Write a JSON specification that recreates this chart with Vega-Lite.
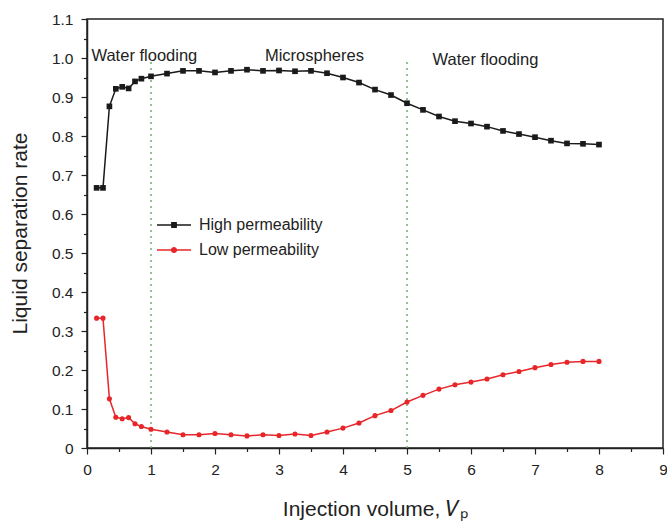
{
  "$schema": "https://vega.github.io/schema/vega-lite/v6.json",
  "width": 576,
  "height": 429,
  "autosize": {"type": "none"},
  "padding": {"left": 87, "top": 19, "right": 4, "bottom": 74},
  "config": {
    "font": "Liberation Sans",
    "view": {"stroke": "#222", "strokeWidth": 1.5},
    "axis": {"grid": false, "domainColor": "#222", "domainWidth": 1.5, "tickColor": "#222", "tickWidth": 1.2, "labelColor": "#222", "labelFontSize": 15.5, "titleFontSize": 21, "titleFontWeight": "normal", "titleColor": "#222", "labelOverlap": false, "labelFlush": false}
  },
  "resolve": {"axis": {"x": "independent", "y": "independent"}},
  "datasets": {
    "series": [
      {"v": 0.15, "rate": 0.667, "series": "High permeability"},
      {"v": 0.25, "rate": 0.667, "series": "High permeability"},
      {"v": 0.35, "rate": 0.876, "series": "High permeability"},
      {"v": 0.45, "rate": 0.921, "series": "High permeability"},
      {"v": 0.55, "rate": 0.926, "series": "High permeability"},
      {"v": 0.65, "rate": 0.922, "series": "High permeability"},
      {"v": 0.75, "rate": 0.940, "series": "High permeability"},
      {"v": 0.85, "rate": 0.947, "series": "High permeability"},
      {"v": 1.0, "rate": 0.953, "series": "High permeability"},
      {"v": 1.25, "rate": 0.960, "series": "High permeability"},
      {"v": 1.5, "rate": 0.967, "series": "High permeability"},
      {"v": 1.75, "rate": 0.967, "series": "High permeability"},
      {"v": 2.0, "rate": 0.963, "series": "High permeability"},
      {"v": 2.25, "rate": 0.967, "series": "High permeability"},
      {"v": 2.5, "rate": 0.970, "series": "High permeability"},
      {"v": 2.75, "rate": 0.967, "series": "High permeability"},
      {"v": 3.0, "rate": 0.968, "series": "High permeability"},
      {"v": 3.25, "rate": 0.966, "series": "High permeability"},
      {"v": 3.5, "rate": 0.967, "series": "High permeability"},
      {"v": 3.75, "rate": 0.961, "series": "High permeability"},
      {"v": 4.0, "rate": 0.950, "series": "High permeability"},
      {"v": 4.25, "rate": 0.937, "series": "High permeability"},
      {"v": 4.5, "rate": 0.919, "series": "High permeability"},
      {"v": 4.75, "rate": 0.905, "series": "High permeability"},
      {"v": 5.0, "rate": 0.884, "series": "High permeability"},
      {"v": 5.25, "rate": 0.867, "series": "High permeability"},
      {"v": 5.5, "rate": 0.850, "series": "High permeability"},
      {"v": 5.75, "rate": 0.838, "series": "High permeability"},
      {"v": 6.0, "rate": 0.832, "series": "High permeability"},
      {"v": 6.25, "rate": 0.824, "series": "High permeability"},
      {"v": 6.5, "rate": 0.813, "series": "High permeability"},
      {"v": 6.75, "rate": 0.805, "series": "High permeability"},
      {"v": 7.0, "rate": 0.797, "series": "High permeability"},
      {"v": 7.25, "rate": 0.788, "series": "High permeability"},
      {"v": 7.5, "rate": 0.781, "series": "High permeability"},
      {"v": 7.75, "rate": 0.780, "series": "High permeability"},
      {"v": 8.0, "rate": 0.778, "series": "High permeability"},
      {"v": 0.15, "rate": 0.333, "series": "Low permeability"},
      {"v": 0.25, "rate": 0.333, "series": "Low permeability"},
      {"v": 0.35, "rate": 0.126, "series": "Low permeability"},
      {"v": 0.45, "rate": 0.079, "series": "Low permeability"},
      {"v": 0.55, "rate": 0.075, "series": "Low permeability"},
      {"v": 0.65, "rate": 0.078, "series": "Low permeability"},
      {"v": 0.75, "rate": 0.062, "series": "Low permeability"},
      {"v": 0.85, "rate": 0.055, "series": "Low permeability"},
      {"v": 1.0, "rate": 0.048, "series": "Low permeability"},
      {"v": 1.25, "rate": 0.041, "series": "Low permeability"},
      {"v": 1.5, "rate": 0.034, "series": "Low permeability"},
      {"v": 1.75, "rate": 0.034, "series": "Low permeability"},
      {"v": 2.0, "rate": 0.037, "series": "Low permeability"},
      {"v": 2.25, "rate": 0.034, "series": "Low permeability"},
      {"v": 2.5, "rate": 0.031, "series": "Low permeability"},
      {"v": 2.75, "rate": 0.034, "series": "Low permeability"},
      {"v": 3.0, "rate": 0.032, "series": "Low permeability"},
      {"v": 3.25, "rate": 0.036, "series": "Low permeability"},
      {"v": 3.5, "rate": 0.032, "series": "Low permeability"},
      {"v": 3.75, "rate": 0.041, "series": "Low permeability"},
      {"v": 4.0, "rate": 0.051, "series": "Low permeability"},
      {"v": 4.25, "rate": 0.064, "series": "Low permeability"},
      {"v": 4.5, "rate": 0.083, "series": "Low permeability"},
      {"v": 4.75, "rate": 0.096, "series": "Low permeability"},
      {"v": 5.0, "rate": 0.118, "series": "Low permeability"},
      {"v": 5.25, "rate": 0.135, "series": "Low permeability"},
      {"v": 5.5, "rate": 0.151, "series": "Low permeability"},
      {"v": 5.75, "rate": 0.162, "series": "Low permeability"},
      {"v": 6.0, "rate": 0.169, "series": "Low permeability"},
      {"v": 6.25, "rate": 0.177, "series": "Low permeability"},
      {"v": 6.5, "rate": 0.188, "series": "Low permeability"},
      {"v": 6.75, "rate": 0.196, "series": "Low permeability"},
      {"v": 7.0, "rate": 0.206, "series": "Low permeability"},
      {"v": 7.25, "rate": 0.214, "series": "Low permeability"},
      {"v": 7.5, "rate": 0.220, "series": "Low permeability"},
      {"v": 7.75, "rate": 0.222, "series": "Low permeability"},
      {"v": 8.0, "rate": 0.222, "series": "Low permeability"}
    ],
    "dividers": [
      {"v": 1, "y0": 0, "y1": 1.0},
      {"v": 5, "y0": 0, "y1": 1.0}
    ],
    "notes": [
      {"v": 0.07, "rate": 1.005, "label": "Water flooding"},
      {"v": 2.78, "rate": 1.005, "label": "Microspheres"},
      {"v": 5.4, "rate": 0.995, "label": "Water flooding"}
    ]
  },
  "layer": [
    {
      "data": {"name": "dividers"},
      "mark": {"type": "rule", "color": "#6fae6f", "strokeDash": [2, 4], "strokeWidth": 1.5},
      "encoding": {
        "x": {
          "field": "v", "type": "quantitative",
          "scale": {"domain": [0, 9], "nice": false},
          "axis": {"orient": "bottom", "values": [0.5, 1.5, 2.5, 3.5, 4.5, 5.5, 6.5, 7.5, 8.5], "labels": false, "domain": false, "tickSize": 3.5, "title": null}
        },
        "y": {
          "field": "y0", "type": "quantitative",
          "scale": {"domain": [0, 1.1], "nice": false},
          "axis": {"orient": "left", "values": [0.05, 0.15, 0.25, 0.35, 0.45, 0.55, 0.65, 0.75, 0.85, 0.95, 1.05], "labels": false, "domain": false, "tickSize": 3.5, "title": null}
        },
        "y2": {"field": "y1"}
      }
    },
    {
      "data": {"name": "series"},
      "mark": {"type": "line", "strokeWidth": 1.5},
      "encoding": {
        "x": {
          "field": "v", "type": "quantitative",
          "axis": {
            "orient": "bottom",
            "title": "Injection volume, 𝑉ₚ",
            "values": [0, 1, 2, 3, 4, 5, 6, 7, 8, 9],
            "format": "d",
            "tickSize": 6,
            "labelPadding": 8,
            "titleY": 61,
            "titleBaseline": "middle"
          }
        },
        "y": {
          "field": "rate", "type": "quantitative",
          "axis": {
            "orient": "left",
            "title": "Liquid separation rate",
            "values": [0, 0.1, 0.2, 0.3, 0.4, 0.5, 0.6, 0.7, 0.8, 0.9, 1.0, 1.1],
            "labelExpr": "datum.value === 0 ? '0' : format(datum.value, '.1f')",
            "tickSize": 6,
            "labelPadding": 8,
            "titleX": -67,
            "titleY": 214,
            "titleAngle": -90,
            "titleAlign": "center",
            "titleBaseline": "middle"
          }
        },
        "color": {
          "field": "series", "type": "nominal",
          "scale": {"domain": ["High permeability", "Low permeability"], "range": ["#1a1a1a", "#e8262a"]},
          "legend": {"title": null, "orient": "none", "legendX": 70, "legendY": 189, "padding": 0, "labelFontSize": 16, "labelColor": "#222", "symbolSize": 1156, "symbolStrokeWidth": 0, "rowPadding": -20, "labelOffset": 8}
        }
      }
    },
    {
      "data": {"name": "series"},
      "transform": [{"filter": "datum.series === 'High permeability'"}],
      "mark": {"type": "square", "opacity": 1, "size": 32},
      "encoding": {
        "x": {"field": "v", "type": "quantitative", "axis": null},
        "y": {"field": "rate", "type": "quantitative", "axis": null},
        "color": {"field": "series", "type": "nominal"}
      }
    },
    {
      "data": {"name": "series"},
      "transform": [{"filter": "datum.series === 'Low permeability'"}],
      "mark": {"type": "circle", "opacity": 1, "size": 26},
      "encoding": {
        "x": {"field": "v", "type": "quantitative", "axis": null},
        "y": {"field": "rate", "type": "quantitative", "axis": null},
        "color": {"field": "series", "type": "nominal"}
      }
    },
    {
      "data": {"name": "series"},
      "transform": [{"filter": "datum.v < 0"}],
      "mark": {"type": "point", "filled": true, "opacity": 1, "strokeWidth": 0},
      "encoding": {
        "x": {"field": "v", "type": "quantitative", "axis": null},
        "y": {"field": "rate", "type": "quantitative", "axis": null},
        "color": {"field": "series", "type": "nominal"},
        "shape": {
          "field": "series", "type": "nominal",
          "scale": {
            "domain": ["High permeability", "Low permeability"],
            "range": [
              "M-1,-0.045H1V0.045H-1ZM-0.17,-0.17H0.17V0.17H-0.17Z",
              "M-1,-0.045H1V0.045H-1ZM0.18,0A0.18,0.18 0 1,1 -0.18,0A0.18,0.18 0 1,1 0.18,0Z"
            ]
          },
          "legend": {"title": null, "orient": "none", "legendX": 70, "legendY": 189, "padding": 0, "labelFontSize": 16, "labelColor": "#222", "symbolSize": 1156, "symbolStrokeWidth": 0, "rowPadding": -20, "labelOffset": 8}
        }
      }
    },
    {
      "data": {"name": "notes"},
      "mark": {"type": "text", "fontSize": 16.5, "color": "#222", "align": "left", "baseline": "middle"},
      "encoding": {
        "x": {"field": "v", "type": "quantitative", "axis": null},
        "y": {"field": "rate", "type": "quantitative", "axis": null},
        "text": {"field": "label"}
      }
    }
  ]
}
